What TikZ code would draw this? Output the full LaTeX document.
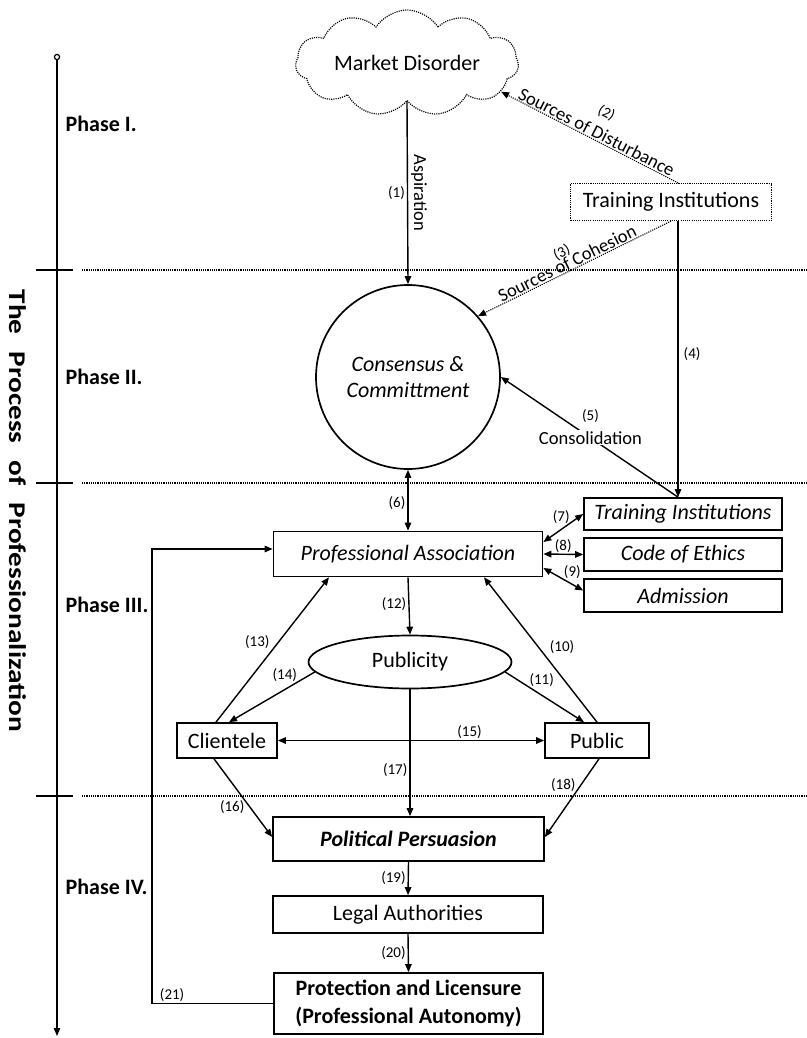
\documentclass[tikz,border=0pt]{standalone}
\usepackage{graphicx}
\usepackage{fontspec}
\setmainfont{Carlito}
\usetikzlibrary{arrows.meta,shapes.geometric,shapes.symbols,calc}
\newcommand\fsBig{\fontsize{22}{26}\selectfont}
\newcommand\fsMid{\fontsize{18.5}{20}\selectfont}
\newcommand\fsNum{\fontsize{15}{17}\selectfont}
\begin{document}
\begin{tikzpicture}[x=1pt,y=-1pt,
  line width=1.4pt,
  box/.style={draw, line width=1.7pt, inner sep=0pt, font=\fsBig},
  arr/.style={-{Triangle[length=8pt,width=6.5pt]}},
  darr/.style={{Triangle[length=8pt,width=6.5pt]}-{Triangle[length=8pt,width=6.5pt]}},
  dots/.style={dash pattern=on 1.1pt off 1.1pt},
  num/.style={font=\fsNum, inner sep=2pt},
  phase/.style={font=\fsBig\bfseries, anchor=west, inner sep=0pt}]

\useasboundingbox (0,0) rectangle (806,1038);

% ---- axis and phases ----
\draw[line width=1.2pt] (57,57) circle[radius=2.6pt];
\draw[arr] (57,59.6) -- (57,1036);
\foreach \yy in {270,483,796}{
  \draw[line width=1.8pt] (36,\yy) -- (73,\yy);
  \draw[dots, line width=1.1pt] (82,\yy) -- (806,\yy);
}
\node[phase] (p1) at (65,124) {Phase I.};
\node[phase] (p2) at (65,377) {Phase II.};
\node[phase] (p3) at (65,605) {Phase III.};
\node[phase] (p4) at (65,887) {Phase IV.};
\node[font=\fontsize{24}{24}\selectfont\bfseries, rotate=-90, inner sep=0pt] (title) at (18,511)
  {\scalebox{1.22}[1]{The\hspace{14pt}Process\hspace{14pt}of\hspace{14pt}Professionalization}};

% ---- nodes ----
\node[box, cloud, cloud puffs=11, cloud puff arc=115, cloud ignores aspect,
      minimum width=223pt, minimum height=106pt, dots, line width=1.2pt] (md) at (407,63) {Market Disorder};
\node[box, dots, line width=1.2pt, minimum width=201pt, minimum height=37pt] (ti1) at (671,202) {Training Institutions};
\node[box, circle, minimum size=184pt, font=\fsBig\itshape, align=center] (cc) at (408,377) {Consensus \&\\Committment};
\node[box, minimum width=269pt, minimum height=45pt, font=\fsBig\itshape] (pa) at (408,554) {Professional Association};
\node[box, minimum width=198pt, minimum height=32pt, font=\fsBig\itshape] (ti2) at (683,514) {Training Institutions};
\node[box, minimum width=198pt, minimum height=33pt, font=\fsBig\itshape] (coe) at (683,554.5) {Code of Ethics};
\node[box, minimum width=198pt, minimum height=33pt, font=\fsBig\itshape] (adm) at (683,595.5) {Admission};
\node[box, ellipse, minimum width=203pt, minimum height=53pt] (pub) at (410,662) {Publicity};
\node[box, minimum width=100pt, minimum height=35pt] (cli) at (227,740.5) {Clientele};
\node[box, minimum width=104pt, minimum height=35pt] (pbl) at (597,740.5) {Public};
\node[box, minimum width=271pt, minimum height=44pt, font=\fsBig\bfseries\itshape] (pp) at (408.5,839) {Political Persuasion};
\node[box, minimum width=270pt, minimum height=37pt] (la) at (408,914.5) {Legal Authorities};
\node[box, minimum width=269pt, minimum height=61pt, font=\fontsize{22}{28}\selectfont\bfseries, align=center] (prot) at (408.5,1003.5)
  {Protection and Licensure\\(Professional Autonomy)};

% ---- connectors ----
\draw[arr] (md.south) -- node[pos=0.5, rotate=-90, anchor=south, font=\fsMid, inner sep=3pt] {Aspiration}
  node[num, pos=0.5, left] {(1)} (cc.north);
\draw[arr, dots, line width=1.1pt] ([xshift=7pt]ti1.north) --
  node[pos=0.48, sloped, above, font=\fsMid, align=center, inner sep=1pt] {{\fsNum (2)}\\[3pt]Sources of Disturbance} (md.-17);
\draw[arr, dots, line width=1.1pt] (ti1.south) --
  node[pos=0.52, sloped, above, font=\fsMid, align=center, inner sep=1pt] {{\fsNum (3)}\\[-6pt]Sources of Cohesion} (cc.41);
\draw[arr] ([xshift=7pt]ti1.south) -- node[num, pos=0.48, right, xshift=3pt] {(4)} ([xshift=-5pt]ti2.north);
\draw[arr] ([xshift=-5pt]ti2.north) -- node[pos=0.494, fill=white, font=\fsMid, inner sep=1pt] {Consolidation}
  node[num, pos=0.494, yshift=22pt] {(5)} (cc.east);
\draw[darr] (cc.south) -- node[num, pos=0.54, left] {(6)} (pa.north);
\draw[darr] ([yshift=12pt]pa.east) -- node[num, pos=0.6, above, inner sep=1pt, xshift=-6pt] {(7)} (ti2.west);
\draw[darr] (pa.east) -- node[num, above, inner sep=1pt] {(8)} (coe.west);
\draw[darr] ([yshift=-14pt]pa.east) -- node[num, pos=0.5, above right, inner sep=0pt] {(9)} ([yshift=5pt]adm.west);
\draw[arr] (pbl.north) -- node[num, pos=0.52, right, xshift=9pt] {(10)} ([xshift=76pt]pa.south);
\draw[arr] (pub.-6) -- node[num, pos=0.3, above right, inner sep=0pt] {(11)} ([xshift=-13pt]pbl.north);
\draw[arr] (pa.south) -- node[num, pos=0.46, left] {(12)} (pub.north);
\draw[arr] ([xshift=-11pt]cli.north) -- node[num, pos=0.55, left, xshift=-6pt] {(13)} ([xshift=-79pt]pa.south);
\draw[arr] (pub.186) -- node[num, pos=0.2, above left, inner sep=0pt] {(14)} ([xshift=2pt]cli.north);
\draw[darr] (cli.east) -- node[num, pos=0.72, above, inner sep=1pt] {(15)} (pbl.west);
\draw[arr] (pub.south) -- node[num, pos=0.64, left] {(17)} (pub.south |- pp.north);
\draw[arr] ([xshift=-13pt]cli.south) -- node[num, pos=0.62, left, xshift=-3pt] {(16)} ([yshift=2pt]pp.west);
\draw[arr] ([xshift=2pt]pbl.south) -- node[num, pos=0.33, left, xshift=-3pt] {(18)} ([yshift=2pt]pp.east);
\draw[arr] (pp.south) -- node[num, left] {(19)} (la.north);
\draw[arr] (la.south) -- node[num, left] {(20)} (prot.north);
\draw[arr] (prot.west) -- node[num, pos=0.835, above, inner sep=1pt] {(21)} ++(-121,0) |- ([yshift=5pt]pa.west);
\end{tikzpicture}
\end{document}
